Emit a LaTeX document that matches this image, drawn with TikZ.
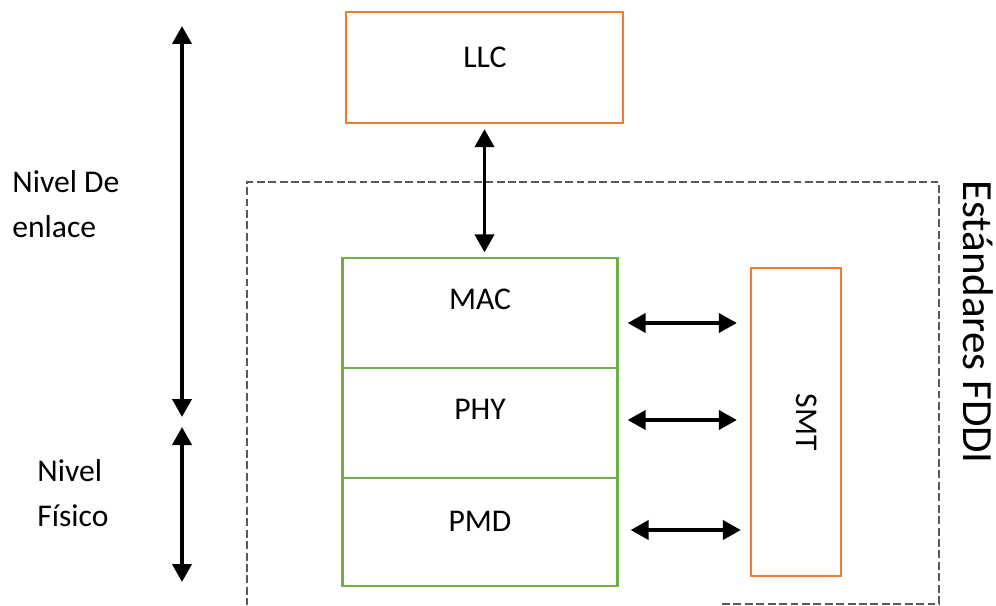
\documentclass[tikz,border=0pt]{standalone}
\usepackage{fontspec}
\setmainfont{Carlito}
\usepackage{xcolor}
\usepackage{tikz}
\usetikzlibrary{arrows.meta,positioning,calc}
\definecolor{boxorange}{HTML}{ED7D31}
\definecolor{boxgreen}{HTML}{70AD47}

\begin{document}
\begin{tikzpicture}[x=0.02cm, y=-0.02cm,
		orangebox/.style={draw=boxorange, line width=1.3pt},
		greenbox/.style={draw=boxgreen, line width=1.3pt, minimum width=5.5cm, minimum height=2.2cm},
		lbl/.style={font=\fontsize{18}{25.6}\selectfont, inner sep=0pt},
		fddiframe/.style={draw=black!65, line width=0.8pt, dash pattern=on 4.5pt off 2pt},
		dblarrow/.style={{Triangle[length=0.36cm,width=0.38cm]}-{Triangle[length=0.36cm,width=0.38cm]}, line width=2.2pt}
	]
		\useasboundingbox (0,0) rectangle (996,605);

		% LLC on top
		\node[orangebox, minimum width=5.54cm, minimum height=2.22cm] (llc) at (484.5,67.5) {};
		\node[lbl] (llcText) at (485,57) {LLC};

		% FDDI frame
		\draw[fddiframe] (722,604) -- (939,604) -- (939,182) -- (247,182) -- (247,605);
		\node[lbl, font=\fontsize{24.5}{30}\selectfont, rotate=-90] (fddiText) at (978,322) {Estándares FDDI};

		% layer stack
		\node[greenbox] (mac) at (480,313) {};
		\node[greenbox] (phy) at (480,423) {};
		\node[greenbox, minimum height=2.16cm] (pmd) at (480,532) {};
		\node[lbl] (macText) at (480,299) {MAC};
		\node[lbl] (phyText) at (480,409) {PHY};
		\node[lbl] (pmdText) at (480,521) {PMD};

		\node[orangebox, minimum width=1.8cm, minimum height=6.16cm] (smt) at (796,422) {};
		\node[lbl, rotate=-90] (smtText) at (807,422) {SMT};

		\draw[dblarrow] ([yshift=-0.1cm]llc.south) -- ([yshift=0.09cm]llc.south |- mac.north);
		\draw[dblarrow] ($(mac.east)+(9,10)$) -- ($(smt.west |- mac.east)+(-13,10)$);
		\draw[dblarrow] ($(phy.east)+(9,-3)$) -- ($(smt.west |- phy.east)+(-13,-3)$);
		\draw[dblarrow] ($(pmd.east)+(12,-2)$) -- ($(smt.west |- pmd.east)+(-9,-2)$);

		% levels on the left
		\coordinate (enlaceTop) at (182,26);
		\coordinate (enlaceBot) at (182,417);
		\coordinate (fisicoTop) at (182,427);
		\coordinate (fisicoBot) at (182,582);
		\draw[dblarrow] (enlaceTop) -- (enlaceBot);
		\draw[dblarrow] (fisicoTop) -- (fisicoBot);

		\node[lbl, anchor=west, align=left] (enlaceText) at (12,204) {Nivel De\\enlace};
		\node[lbl, anchor=west, align=left] (fisicoText) at (37,493) {Nivel\\Físico};
	\end{tikzpicture}
\end{document}
